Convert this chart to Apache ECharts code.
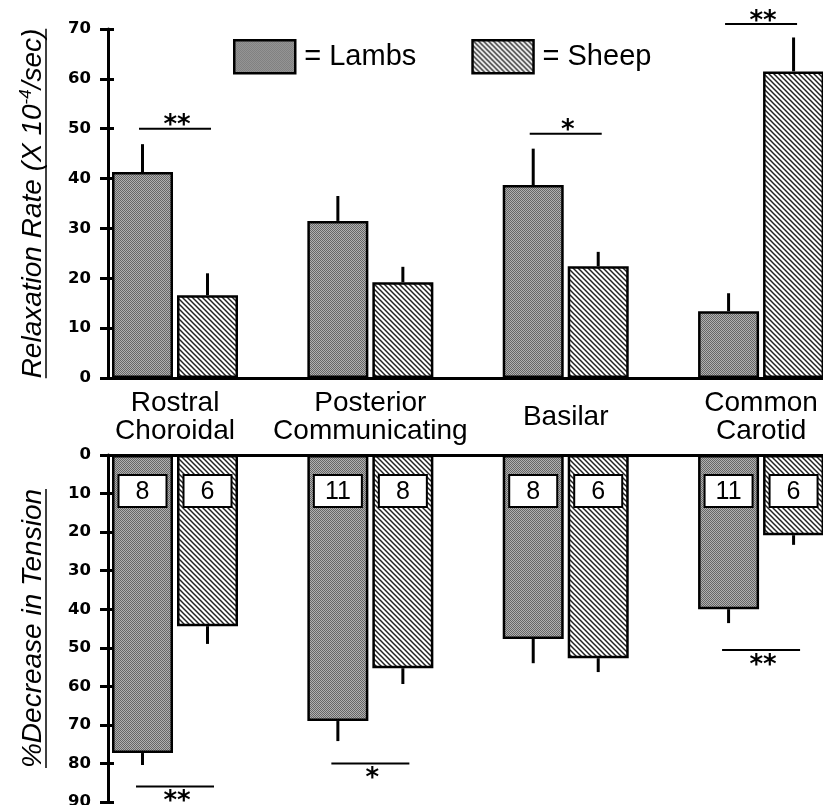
<!DOCTYPE html>
<html><head><meta charset="utf-8">
<script src="https://cdn.jsdelivr.net/npm/echarts@6/dist/echarts.min.js"></script>
<style>html,body{margin:0;padding:0;background:#fff}#c{width:823px;height:805px}</style>
</head><body><div id="c"></div>
<script>
// ---------------- data ----------------
const categories = ['Rostral\nChoroidal', 'Posterior\nCommunicating', 'Basilar', 'Common\nCarotid'];
const groupNames = ['Lambs', 'Sheep'];
const relaxLambs = [41.3, 31.5, 38.7, 13.4];
const relaxLambsSem = [5.6, 5.0, 7.3, 3.6];
const relaxSheep = [16.6, 19.2, 22.4, 61.5];
const relaxSheepSem = [4.4, 3.1, 2.9, 6.8];
const tensionLambs = [77.3, 69.0, 47.7, 40.0];
const tensionLambsSem = [3.1, 5.2, 6.3, 3.6];
const tensionSheep = [44.4, 55.3, 52.7, 20.8];
const tensionSheepSem = [4.6, 4.1, 3.6, 2.5];
const nLambs = [8, 11, 8, 11];
const nSheep = [6, 8, 6, 6];
const nBoxRange = [5.2, 13.5];
const relaxSigCat = [0, 2, 3];
const relaxSigLevel = [50, 49, 71];
const relaxSigText = ['**', '*', '**'];
const tensionSigCat = [0, 1, 3];
const tensionSigLevel = [86, 80, 50.6];
const tensionSigText = ['**', '*', '**'];
const relaxAxis = {min: 0, max: 70, interval: 10};
const tensionAxis = {min: 0, max: 90, interval: 10};
const relaxTitle = ['Relaxation Rate (X 10', '-4', '/sec)'];
const tensionTitle = '%Decrease in Tension';

// ---------------- styles ----------------
const BAR_W = 61, BAR_GAP_PX = 4, OFF = (BAR_W + BAR_GAP_PX) / 2;
const X_MIN = -0.343, X_MAX = 3.317;
const FONT = '"Liberation Sans", Arial, sans-serif';

function stipple() {
  const c = document.createElement('canvas'); c.width = 4; c.height = 4;
  const g = c.getContext('2d');
  for (let x = 0; x < 4; x++) for (let y = 0; y < 4; y++) {
    g.fillStyle = ((x + y) % 2) ? '#b0b0b0' : '#666666';
    g.fillRect(x, y, 1, 1);
  }
  return c;
}
function hatch() {
  const s = 5;
  const c = document.createElement('canvas'); c.width = s; c.height = s;
  const g = c.getContext('2d');
  g.fillStyle = '#fff'; g.fillRect(0, 0, s, s);
  g.strokeStyle = '#222'; g.lineWidth = 1.5;
  [-s, 0, s].forEach(k => { g.beginPath(); g.moveTo(-1, -1 + k); g.lineTo(s + 1, s + 1 + k); g.stroke(); });
  return c;
}
const lambFill = {image: stipple(), repeat: 'repeat'};
const sheepFill = {image: hatch(), repeat: 'repeat'};

function bar(name, xi, yi, vals, fill) {
  return {type: 'bar', name, xAxisIndex: xi, yAxisIndex: yi, barWidth: BAR_W,
    barGap: (BAR_GAP_PX / BAR_W * 100).toFixed(2) + '%', z: 2, silent: true,
    data: vals.map((v, i) => [i, v]),
    itemStyle: {color: fill, borderColor: '#000', borderWidth: 2.5}};
}
function errBars(xi, yi, means, sems, sign) {
  return {type: 'custom', xAxisIndex: xi, yAxisIndex: yi, z: 3, silent: true, clip: false,
    data: means.map((m, i) => [i, m, m + sems[i]]),
    renderItem(p, api) {
      const a = api.coord([api.value(0), api.value(1)]);
      const b = api.coord([api.value(0), api.value(2)]);
      const x = a[0] + sign * OFF;
      return {type: 'line', shape: {x1: x, y1: a[1], x2: x, y2: b[1]}, style: {stroke: '#000', lineWidth: 3}};
    }};
}
function nBoxes(xi, yi, ns, sign) {
  return {type: 'custom', xAxisIndex: xi, yAxisIndex: yi, z: 4, silent: true, clip: false,
    data: ns.map((n, i) => [i, n]),
    renderItem(p, api) {
      const a = api.coord([api.value(0), nBoxRange[0]]);
      const b = api.coord([api.value(0), nBoxRange[1]]);
      const cx = a[0] + sign * OFF;
      const y0 = Math.min(a[1], b[1]), h = Math.abs(b[1] - a[1]);
      return {type: 'group', children: [
        {type: 'rect', shape: {x: cx - 24, y: y0, width: 48, height: h},
          style: {fill: '#fff', stroke: '#000', lineWidth: 2}},
        {type: 'text', style: {text: String(api.value(1)), x: cx, y: y0 + h / 2 + 1, align: 'center',
          verticalAlign: 'middle', fontSize: 25, fontFamily: FONT, fill: '#000'}}
      ]};
    }};
}
function sigMarks(xi, yi, cats, levels, texts, halfW, textDy) {
  return {type: 'custom', xAxisIndex: xi, yAxisIndex: yi, z: 4, silent: true, clip: false,
    data: cats.map((c, i) => [c, levels[i]]),
    renderItem(p, api) {
      const a = api.coord([api.value(0), api.value(1)]);
      return {type: 'group', children: [
        {type: 'line', shape: {x1: a[0] - halfW, y1: a[1], x2: a[0] + halfW, y2: a[1]},
          style: {stroke: '#000', lineWidth: 2}},
        {type: 'text', style: {text: texts[p.dataIndex], x: a[0] + 2, y: a[1] + textDy, align: 'center',
          verticalAlign: 'middle', fontSize: 26, fontWeight: 'bold', fontFamily: '"DejaVu Sans", sans-serif', fill: '#000'}}
      ]};
    }};
}

const axisLineStyle = {color: '#000', width: 3};
function yAx(grid, cfg, inverse, extra) {
  return Object.assign({gridIndex: grid, type: 'value', position: 'left', min: cfg.min, max: cfg.max, interval: cfg.interval,
    inverse,
    axisLine: {show: true, onZero: false, lineStyle: axisLineStyle},
    axisTick: {show: true, length: 8, lineStyle: {color: '#000', width: 3}},
    axisLabel: {margin: 17, color: '#000', fontFamily: '"DejaVu Sans", sans-serif', fontWeight: 'bold', fontSize: 16.5},
    splitLine: {show: false},
    nameLocation: 'middle', nameGap: 60}, extra);
}
function yInnerTicks(grid, cfg, inverse) {
  return {gridIndex: grid, type: 'value', position: 'left', offset: 0, min: cfg.min, max: cfg.max, interval: cfg.interval,
    inverse, axisLine: {show: false, onZero: false},
    axisTick: {show: true, inside: true, length: 6, lineStyle: {color: '#000', width: 3}},
    axisLabel: {show: false}, splitLine: {show: false}};
}

const chart = echarts.init(document.getElementById('c'), null, {renderer: 'canvas'});
const option = {
  backgroundColor: '#fff',
  animation: false,
  textStyle: {fontFamily: FONT},
  grid: [
    {left: 108, right: 0, top: 29, height: 349, outerBoundsMode: 'none'},
    {left: 108, right: 0, top: 455, height: 347, outerBoundsMode: 'none'}
  ],
  legend: {left: 233, top: 39, padding: 0, itemWidth: 61, itemHeight: 33, itemGap: 55, icon: 'rect',
    selectedMode: false, data: groupNames, formatter: '= {name}',
    itemStyle: {borderColor: '#000', borderWidth: 2.5},
    textStyle: {fontFamily: FONT, fontSize: 29, color: '#000', padding: [0, 0, 0, 4]}},
  xAxis: [
    {gridIndex: 0, type: 'value', min: X_MIN, max: X_MAX,
      axisLine: {onZero: true, lineStyle: axisLineStyle}, axisTick: {show: false}, splitLine: {show: false},
      axisLabel: {customValues: [0, 1, 2, 3], formatter: v => categories[Math.round(v)] || '',
        fontFamily: FONT, fontSize: 28, lineHeight: 28, color: '#000', margin: 39, verticalAlign: 'middle'}},
    {gridIndex: 1, type: 'value', position: 'top', min: X_MIN, max: X_MAX,
      axisLine: {onZero: true, lineStyle: axisLineStyle}, axisTick: {show: false}, splitLine: {show: false},
      axisLabel: {show: false}}
  ],
  yAxis: [
    yAx(0, relaxAxis, false, {
      name: '{t|' + relaxTitle[0] + '}{s|' + relaxTitle[1] + '}{t|' + relaxTitle[2] + '}',
      nameTextStyle: {rich: {
        t: {fontFamily: FONT, fontStyle: 'italic', fontSize: 28, color: '#000', lineHeight: 30},
        s: {fontFamily: FONT, fontStyle: 'italic', fontSize: 17, color: '#000', verticalAlign: 'top', lineHeight: 30}}}
    }),
    yAx(1, tensionAxis, true, {
      name: tensionTitle,
      nameTextStyle: {fontFamily: FONT, fontStyle: 'italic', fontSize: 28, color: '#000', lineHeight: 30}
    }),
    yInnerTicks(0, relaxAxis, false),
    yInnerTicks(1, tensionAxis, true)
  ],
  series: [
    bar(groupNames[0], 0, 0, relaxLambs, lambFill),
    bar(groupNames[1], 0, 0, relaxSheep, sheepFill),
    bar(groupNames[0], 1, 1, tensionLambs, lambFill),
    bar(groupNames[1], 1, 1, tensionSheep, sheepFill),
    errBars(0, 0, relaxLambs, relaxLambsSem, -1),
    errBars(0, 0, relaxSheep, relaxSheepSem, 1),
    errBars(1, 1, tensionLambs, tensionLambsSem, -1),
    errBars(1, 1, tensionSheep, tensionSheepSem, 1),
    nBoxes(1, 1, nLambs, -1),
    nBoxes(1, 1, nSheep, 1),
    sigMarks(0, 0, relaxSigCat, relaxSigLevel, relaxSigText, 36, -2),
    sigMarks(1, 1, tensionSigCat, tensionSigLevel, tensionSigText, 39, 16)
  ]
};
chart.setOption(option);

// underline the rotated axis titles
const mctx = document.createElement('canvas').getContext('2d');
function textW(font, s) { mctx.font = font; return mctx.measureText(s).width; }
const big = 'italic 28px ' + FONT, small = 'italic 17px ' + FONT;
const relaxLen = textW(big, relaxTitle[0]) + textW(small, relaxTitle[1]) + textW(big, relaxTitle[2]);
const tensionLen = textW(big, tensionTitle);
const axisX = chart.convertToPixel({xAxisIndex: 0}, X_MIN);
const ulX = axisX - 60 - 2;
const topC = (chart.convertToPixel({yAxisIndex: 0}, relaxAxis.min) + chart.convertToPixel({yAxisIndex: 0}, relaxAxis.max)) / 2;
const botC = (chart.convertToPixel({yAxisIndex: 1}, tensionAxis.min) + chart.convertToPixel({yAxisIndex: 1}, tensionAxis.max)) / 2;
chart.setOption({graphic: [
  {type: 'line', silent: true, shape: {x1: ulX, y1: topC - relaxLen / 2, x2: ulX, y2: topC + relaxLen / 2}, style: {stroke: '#000', lineWidth: 1.5}},
  {type: 'line', silent: true, shape: {x1: ulX, y1: botC - tensionLen / 2, x2: ulX, y2: botC + tensionLen / 2}, style: {stroke: '#000', lineWidth: 1.5}}
]});
</script>
</body></html>
